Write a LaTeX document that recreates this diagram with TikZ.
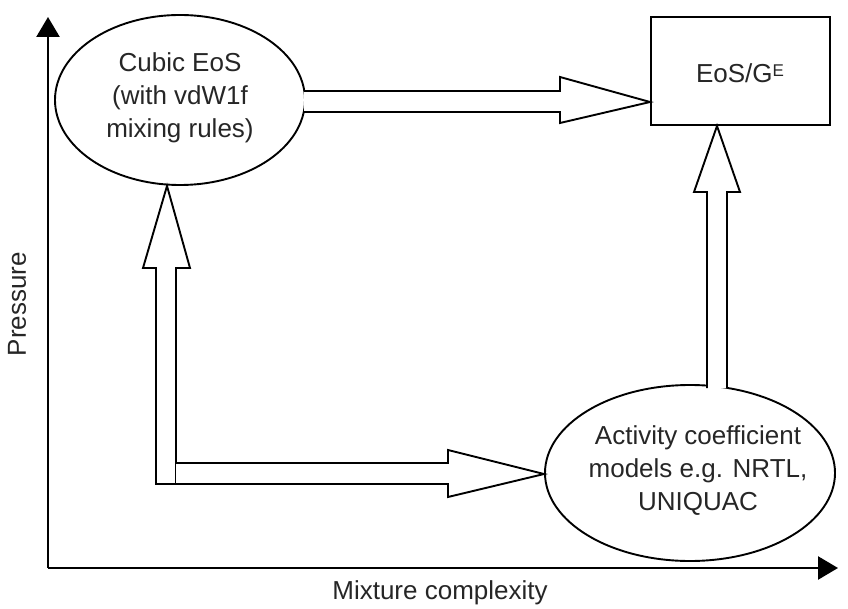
\documentclass[tikz,border=0pt]{standalone}
\usepackage{fontspec}
\setmainfont{Liberation Sans}
\usetikzlibrary{shapes.geometric,arrows.meta}
\begin{document}
\begin{tikzpicture}[x=1pt,y=-1pt,
  lbl/.style={font=\fontsize{26}{33}\selectfont,align=center,text=black!85},
  outl/.style={draw=black,line width=1.9pt},
  blockarrow/.style={draw=black,line width=1.9pt,line join=miter,fill=white},
  axis/.style={line width=2.5pt,-{Triangle[length=20pt,width=23pt]}}]
\useasboundingbox (0,0) rectangle (848,609);
% axes
\coordinate (origin) at (48,568);
\coordinate (ytip) at (48,17);
\coordinate (xtip) at (838,568);
\draw[axis] (origin) -- (ytip);
\draw[axis] (origin) -- (xtip);
\node[lbl,rotate=90] (plabel) at (17,304) {Pressure};
\node[lbl] (mlabel) at (440,593) {Mixture complexity};
% nodes
\node[ellipse,outl,minimum width=250pt,minimum height=170pt,inner sep=0pt] (cubic) at (180,100) {};
\node[lbl] (cubictext) at (180,98) {Cubic EoS\\(with vdW1f\\mixing rules)};
\node[ellipse,outl,minimum width=290pt,minimum height=176pt,inner sep=0pt] (act) at (690,473) {};
\node[lbl] (acttext) at (698,471) {Activity coefficient\\models e.g. NRTL,\\UNIQUAC};
\node[rectangle,outl,minimum width=179pt,minimum height=108pt,inner sep=0pt] (box) at (740.5,71) {};
\node[lbl] (boxtext) at (740,73) {EoS/G\raisebox{6pt}{\fontsize{17}{17}\selectfont E}};
% block arrows
\draw[blockarrow] (304,91) -- (560,91) -- (560,77) -- (box.west |- 0,102) -- (560,123) -- (560,112) -- (304,112);
\draw[blockarrow] (707,388) -- (707,192) -- (694,192) -- (box.south -| 717,0) -- (740,192) -- (727,192) -- (727,388);
\draw[blockarrow] (156,484) -- (156,268) -- (143,268) -- (cubic.south -| 167,0) -- (190,268) -- (176,268) -- (176,484) -- cycle;
\draw[blockarrow] (176,463) -- (448,463) -- (448,450) -- (act.west |- 0,474) -- (448,497) -- (448,484) -- (176,484);
\end{tikzpicture}
\end{document}
